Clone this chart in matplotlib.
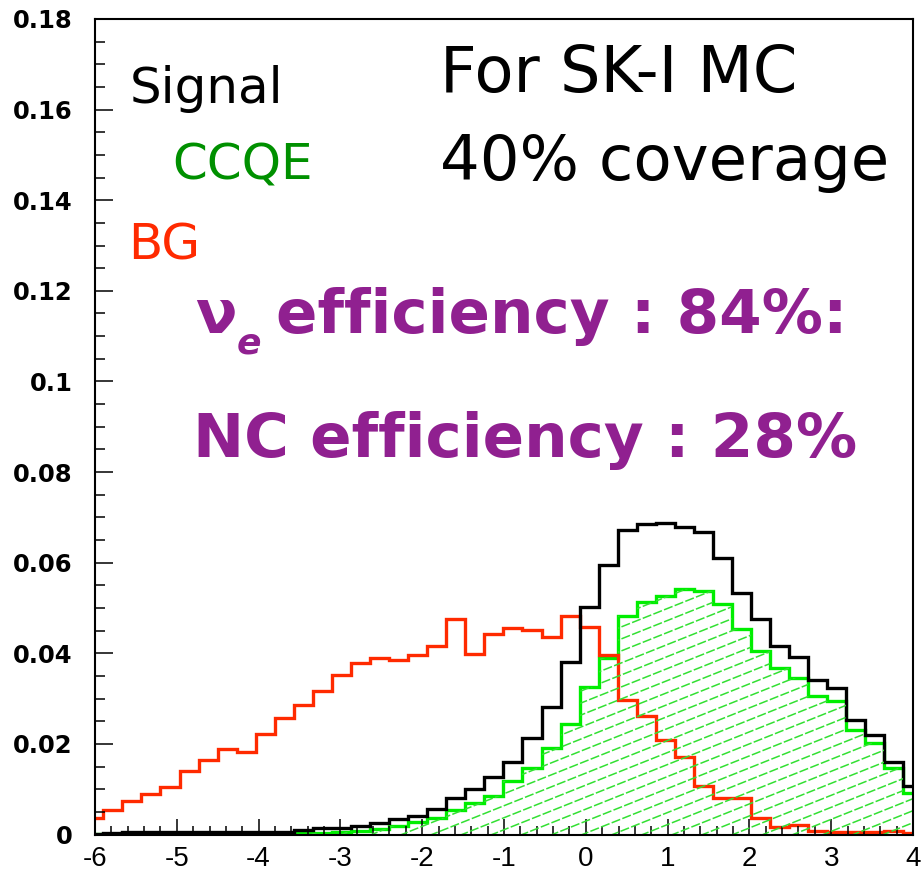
import numpy as np
import matplotlib.pyplot as plt
from matplotlib.collections import LineCollection

# bin layout (44 bins, first and last are cut by the frame)
x_start = -6.131
bin_w = 0.2329
n_bins = 44

# background (NC) - red
bg = [0.0037, 0.0053, 0.0074, 0.0089, 0.0104, 0.0141, 0.0164, 0.0189, 0.0181, 0.0222,
      0.0258, 0.0286, 0.0317, 0.0352, 0.0378, 0.0389, 0.0385, 0.0396, 0.0415, 0.0475,
      0.0398, 0.0442, 0.0455, 0.0451, 0.0435, 0.0482, 0.0459, 0.0396, 0.0297, 0.0262,
      0.0209, 0.0170, 0.0108, 0.0080, 0.0080, 0.0036, 0.0017, 0.0021, 0.0008, 0.0005,
      0.0005, 0.0006, 0.0008, 0.0003]

# signal - black
signal = [0.0002, 0.0003, 0.0005, 0.0005, 0.0005, 0.0005, 0.0005, 0.0005, 0.0005, 0.0006,
          0.0006, 0.0011, 0.0015, 0.0015, 0.0019, 0.0025, 0.0034, 0.0041, 0.0056, 0.0081,
          0.0101, 0.0126, 0.0159, 0.0212, 0.0281, 0.0380, 0.0502, 0.0594, 0.0672, 0.0685,
          0.0687, 0.0679, 0.0667, 0.0610, 0.0534, 0.0476, 0.0417, 0.0391, 0.0341, 0.0324,
          0.0253, 0.0220, 0.0159, 0.0106]

# CCQE part of signal - green
ccqe = [0.0002, 0.0002, 0.0002, 0.0002, 0.0002, 0.0002, 0.0002, 0.0002, 0.0002, 0.0002,
        0.0002, 0.0003, 0.0004, 0.0005, 0.0008, 0.0012, 0.0018, 0.0027, 0.0036, 0.0053,
        0.0069, 0.0085, 0.0117, 0.0146, 0.0190, 0.0244, 0.0325, 0.0390, 0.0482, 0.0514,
        0.0527, 0.0541, 0.0538, 0.0509, 0.0454, 0.0405, 0.0368, 0.0346, 0.0306, 0.0295,
        0.0231, 0.0201, 0.0147, 0.0092]

x_ticks = [-6, -5, -4, -3, -2, -1, 0, 1, 2, 3, 4]
y_ticks = [0, 0.02, 0.04, 0.06, 0.08, 0.1, 0.12, 0.14, 0.16, 0.18]

edges = x_start + bin_w * np.arange(n_bins + 1)

W, H = 922, 877
fig = plt.figure(figsize=(W / 100, H / 100), dpi=100)
ax = fig.add_axes([95 / W, (H - 834.5) / H, (913 - 95) / W, (834.5 - 19) / H])

# hatched CCQE area
clip = ax.stairs(ccqe, edges, fill=True, facecolor='none', edgecolor='none')
slope = 0.0072
offsets = np.arange(-0.08, 0.08, 0.00265)
segs = [[(-6.2, c + slope * (-6.2 + 6)), (4.2, c + slope * (4.2 + 6))] for c in offsets]
hatch = LineCollection(segs, colors='#33e033', linewidths=1.1, linestyles=(0, (6, 1.5)))
ax.add_collection(hatch)
hatch.set_clip_path(clip)

ax.stairs(ccqe, edges, color='#00ee00', linewidth=2.4)
ax.stairs(bg, edges, color='#ff2a00', linewidth=2.4)
ax.stairs(signal, edges, color='black', linewidth=2.4)

ax.set_xlim(-6, 4)
ax.set_ylim(0, 0.18)
ax.set_xticks(x_ticks)
ax.set_xticklabels([str(v) for v in x_ticks], fontsize=20, family='Liberation Sans')
ax.set_yticks(y_ticks)
ax.set_yticklabels(['%g' % v for v in y_ticks], fontsize=17.5, fontweight='bold')
ax.set_xticks(np.arange(-6, 4.01, 0.2), minor=True)
ax.set_yticks(np.arange(0, 0.1801, 0.005), minor=True)
ax.tick_params(axis='both', which='both', direction='in', top=False, right=False, width=1.1)
ax.tick_params(axis='x', which='major', length=11.5, pad=8)
ax.tick_params(axis='x', which='minor', length=6.3)
ax.tick_params(axis='y', which='major', length=12.7, pad=16)
ax.tick_params(axis='y', which='minor', length=7.2)
for sp in ax.spines.values():
    sp.set_linewidth(1.5)


def put(x, y, s, **kw):
    fig.text(x / W, 1 - y / H, s, va='baseline', ha='left', **kw)


put(130, 103, 'Signal', fontsize=36, color='black')
put(172, 180, 'CCQE', fontsize=36, color='#009000')
put(128, 260, 'BG', fontsize=36, color='#ff2a00')
put(440, 92, 'For SK-I MC', fontsize=46, color='black')
put(440, 180, '40% coverage', fontsize=45, color='black')

purple = '#902090'
put(195, 333, 'ν', fontsize=44, color=purple, fontweight='bold')
put(237, 354, 'e', fontsize=26, color=purple, fontweight='bold', style='italic')
put(276, 333, 'efficiency : 84%:', fontsize=44, color=purple, fontweight='bold')
put(193, 457, 'NC efficiency : 28%', fontsize=44, color=purple, fontweight='bold')

fig.savefig('out.png', dpi=100)
